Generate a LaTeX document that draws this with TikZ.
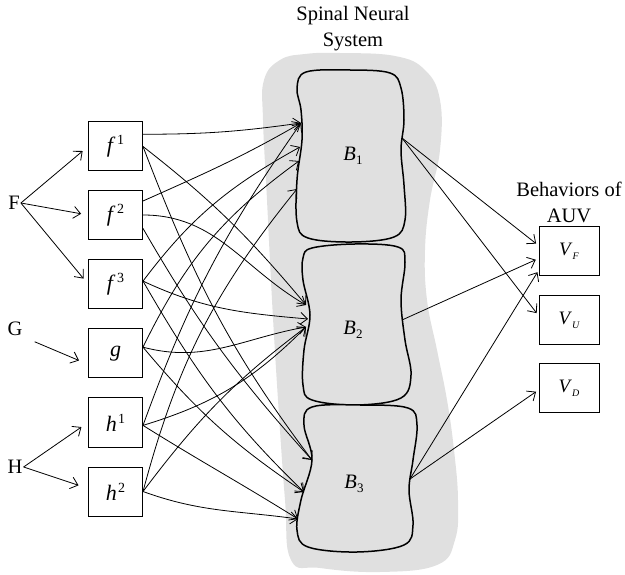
\documentclass[tikz,border=0pt]{standalone}
\usepackage{fontspec}
\setmainfont{Liberation Serif}
\usetikzlibrary{arrows.meta,calc}

\newcommand\upidx[2]{\textit{#1}\kern1.5pt\raisebox{.8ex}{\fontsize{14}{14}\selectfont#2}}
\newcommand\lowidx[2]{\textit{#1}\raisebox{-.45ex}{\fontsize{13}{13}\selectfont#2}}
\newcommand\vidx[1]{\textit{V}\raisebox{-.5ex}{\fontsize{10}{10}\selectfont\itshape#1}}

\begin{document}
\begin{tikzpicture}[x=1pt,y=1pt,
    box/.style={draw,line width=1pt,minimum width=54pt,minimum height=49pt,inner sep=0pt,
      font=\fontsize{22}{26}\selectfont},
    obox/.style={box,minimum width=60pt,font=\fontsize{19}{22}\selectfont},
    lbl/.style={font=\fontsize{20.5}{26}\selectfont,align=center,inner sep=1pt},
    arr/.style={-{Straight Barb[length=7pt,width=12pt]},line width=0.8pt},
    blob/.style={line width=1.5pt,fill=black!12}]
    \useasboundingbox (0,0) rectangle (625,-575);
    % spinal neural system
    \fill[black!12] plot[smooth cycle,tension=0.7] coordinates {(340,-53) (395,-56) (425,-70)
      (440,-100) (440,-150) (430,-200) (425,-250) (427,-300) (437,-350) (447,-400) (454,-450)
      (458,-500) (455,-540) (437,-565) (380,-572) (320,-568) (291,-560) (285,-500) (278,-400)
      (272,-300) (267,-200) (263,-120) (264,-80) (280,-60) (305,-54)};
    \draw[blob] plot[smooth cycle,tension=0.6] coordinates {(306,-72) (350,-70) (390,-73)
      (401,-88) (404,-120) (401,-150) (404,-185) (405,-220) (394,-237) (352,-242) (308,-238)
      (297,-222) (297,-180) (302,-140) (301,-110) (297,-88)};
    \draw[blob] plot[smooth cycle,tension=0.6] coordinates {(312,-248) (355,-244) (398,-247)
      (405,-262) (401,-300) (405,-340) (411,-375) (401,-398) (357,-405) (312,-400) (303,-385)
      (304,-350) (310,-315) (303,-280) (303,-258)};
    \draw[blob] plot[smooth cycle,tension=0.6] coordinates {(312,-407) (360,-405) (408,-408)
      (417,-425) (413,-460) (409,-490) (413,-525) (404,-545) (357,-552) (308,-547) (297,-530)
      (301,-500) (312,-460) (304,-425)};
    \node[lbl] (b1) at (353,-156) {\lowidx{B}{1}};
    \node[lbl] (b2) at (353,-330) {\lowidx{B}{2}};
    \node[lbl] (b3) at (354,-484) {\lowidx{B}{3}};
    \node[lbl] (sns) at (353,-29) {Spinal Neural\\System};
    \node[lbl] (beh) at (569,-202) {Behaviors of\\AUV};

    % ports on the blobs
    \coordinate (b1a) at (301,-123);
    \coordinate (b1b) at (300,-147);
    \coordinate (b1c) at (299,-161);
    \coordinate (b1d) at (297,-189);
    \coordinate (b2a) at (306,-305);
    \coordinate (b2b) at (308,-319);
    \coordinate (b2c) at (306,-327);
    \coordinate (b3a) at (312,-460);
    \coordinate (b3b) at (304,-492);
    \coordinate (b3c) at (298,-519);
    \coordinate (b1o) at (402,-138);
    \coordinate (b2o) at (402,-320);
    \coordinate (b3o) at (410,-479);

    % inputs
    \foreach \n/\y/\t in {f1/146.5/\upidx{f}{1}, f2/215/\upidx{f}{2}, f3/284/\upidx{f}{3},
      g/353.5/\textit{g}, h1/422.5/\upidx{h}{1}, h2/491.5/\upidx{h}{2}}{
      \node[box] (\n) at (115.5,-\y) {\t};
    }
    \node[lbl] (F) at (14,-203) {F};
    \node[lbl] (G) at (15,-329) {G};
    \node[lbl] (H) at (15,-467) {H};
    \foreach \t in {f1,f2,f3}{
      \draw[arr,shorten >=7pt] (F.east) -- (\t.west);
    }
    \draw[arr,shorten <=12pt] (G.south east) -- ([shift={(-9,-7)}]g.west);
    \draw[arr,shorten >=8pt] (H.east) -- (h1.west);
    \draw[arr,shorten >=10pt] (H.east) -- ([yshift=3pt]h2.west);

    % outputs
    \node[obox] (vf) at (569,-251.5) {\vidx{F}};
    \node[obox] (vu) at (569,-320.5) {\vidx{U}};
    \node[obox] (vd) at (569,-388) {\vidx{D}};

    % inputs -> blobs
    \foreach \s/\t/\o/\i in {f1.24/b1a/0/188, f2.27/b1a/24/210, f3.6/b1b/53/209,
      g.13/b1c/64/216, h1.354/b1a/70/235, h2.east/b1d/75/231,
      f1.east/b2a/-38/130, f2.east/b2a/0/150, f3.6/b2b/-25/175,
      g.13/b2c/-15/190, h1.354/b2c/17/225, h2.east/b2c/53/217,
      f1.east/b3a/-69/127, f2.334/b3a/-60/132, f3.6/b3b/-60/136,
      g.13/b3b/-50/146, h1.354/b3c/-32/148, h2.east/b3c/-20/172}{
      \draw[arr] (\s) to[out=\o,in=\i] (\t);
    }
    % blobs -> behaviors
    \draw[arr,shorten >=3pt] (b1o) -- ([yshift=6pt]vf.west);
    \draw[arr,shorten >=3pt] (b1o) -- ([yshift=5pt]vu.west);
    \draw[arr,shorten >=3pt] (b2o) -- ([yshift=-7pt]vf.west);
    \draw[arr,shorten >=2pt] (b3o) -- ([yshift=6pt]vf.south west);
    \draw[arr,shorten >=3pt] (b3o) -- ([yshift=-2pt]vd.west);
\end{tikzpicture}
\end{document}
